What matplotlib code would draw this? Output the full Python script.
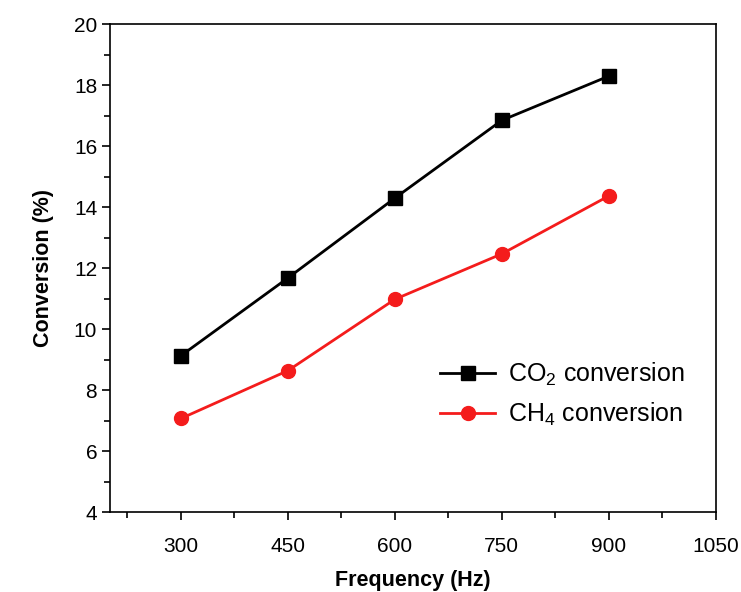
import matplotlib
matplotlib.use("Agg")
import matplotlib.pyplot as plt
from matplotlib.ticker import MultipleLocator

plt.rcParams['font.family'] = ['Liberation Sans', 'DejaVu Sans']
plt.rcParams['mathtext.default'] = 'regular'

# conversion vs discharge frequency
frequency = [300, 450, 600, 750, 900]
co2_conversion = [9.13, 11.68, 14.3, 16.85, 18.3]
ch4_conversion = [7.07, 8.64, 10.98, 12.47, 14.37]

fig = plt.figure(figsize=(7.41, 5.92), dpi=100)
ax = fig.add_axes([0.148, 0.135, 0.818, 0.824])

ax.plot(frequency, co2_conversion, color='black', lw=2, marker='s', ms=10,
        label='CO$_2$ conversion')
ax.plot(frequency, ch4_conversion, color='#f41c1c', lw=2, marker='o', ms=10,
        label='CH$_4$ conversion')

ax.set_xlim(200, 1050)
ax.set_ylim(4, 20)
ax.xaxis.set_major_locator(MultipleLocator(150))
ax.xaxis.set_minor_locator(MultipleLocator(75))
ax.yaxis.set_major_locator(MultipleLocator(2))
ax.yaxis.set_minor_locator(MultipleLocator(1))
ax.tick_params(which='both', direction='out', top=False, right=False,
               labelsize=15, width=1.2)
ax.tick_params(which='major', length=6)
ax.tick_params(which='minor', length=4)
ax.tick_params(axis='x', pad=12)
ax.tick_params(axis='y', pad=3)
for s in ax.spines.values():
    s.set_linewidth(1.2)

ax.set_xlabel('Frequency (Hz)', fontsize=15.5, fontweight='bold', labelpad=10)
ax.set_ylabel('Conversion (%)', fontsize=15.5, fontweight='bold', labelpad=14)

ax.legend(loc='upper left', bbox_to_anchor=(0.545, 0.31), frameon=False,
          fontsize=18, handlelength=2.2, handletextpad=0.5,
          labelspacing=0.5, borderpad=0, borderaxespad=0)

fig.savefig('out.png', dpi=100)
